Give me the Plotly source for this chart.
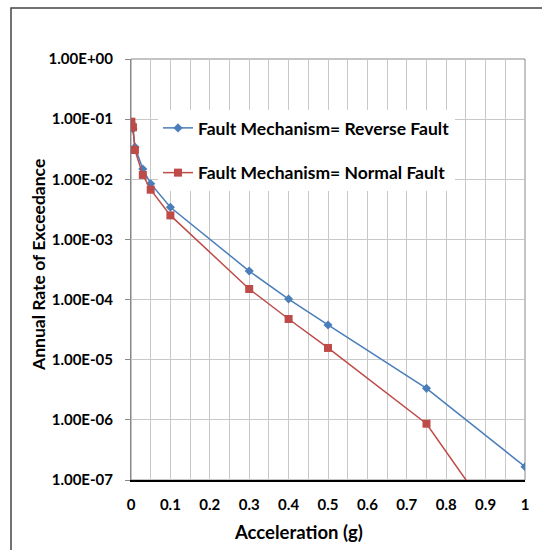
import plotly.graph_objects as go

# Seismic hazard curves: peak ground acceleration vs. annual rate of exceedance
reverse_pga = [0.001, 0.005, 0.01, 0.03, 0.05, 0.1, 0.3, 0.4, 0.5, 0.75, 1.0]
reverse_rate = [8.6e-2, 6.9e-2, 3.44e-2, 1.48e-2, 8.45e-3, 3.42e-3, 2.98e-4,
                1.02e-4, 3.78e-5, 3.34e-6, 1.66e-7]

normal_pga = [0.001, 0.005, 0.01, 0.03, 0.05, 0.1, 0.3, 0.4, 0.5, 0.75, 1.0]
normal_rate = [9.07e-2, 7.31e-2, 3.07e-2, 1.18e-2, 6.71e-3, 2.51e-3, 1.5e-4,
               4.75e-5, 1.57e-5, 8.63e-7, 4.0e-9]

y_tick_vals = [1e0, 1e-1, 1e-2, 1e-3, 1e-4, 1e-5, 1e-6, 1e-7]
y_tick_text = ["1.00E+00", "1.00E-01", "1.00E-02", "1.00E-03",
               "1.00E-04", "1.00E-05", "1.00E-06", "1.00E-07"]

FONT = "Lato"
W, H = 542, 550
L, R, T, B = 131, 17, 59, 70
PW, PH = W - L - R, H - T - B


def px_x(p):
    return (p - L) / PW


def px_y(p):
    return (H - B - p) / PH


fig = go.Figure()
fig.add_trace(go.Scatter(
    x=reverse_pga, y=reverse_rate, mode="lines+markers",
    name="Fault Mechanism= Reverse Fault", legendgroup="rev",
    line=dict(color="#4a7ebb", width=1.5),
    marker=dict(symbol="diamond", size=7, color="#4a7ebb"),
))
fig.add_trace(go.Scatter(
    x=normal_pga, y=normal_rate, mode="lines+markers",
    name="Fault Mechanism= Normal Fault", legendgroup="nor",
    line=dict(color="#be4b48", width=1.5),
    marker=dict(symbol="square", size=8, color="#be4b48"),
))

fig.update_layout(
    width=W, height=H,
    margin=dict(l=L, r=R, t=T, b=B),
    paper_bgcolor="white", plot_bgcolor="white",
    font=dict(family=FONT, color="black"),
    showlegend=True,
    legend=dict(
        x=px_x(158), y=px_y(110), xanchor="left", yanchor="top",
        bgcolor="white", borderwidth=0,
        font=dict(family=FONT, size=17.5, weight=700, color="black"),
        traceorder="grouped", tracegroupgap=19,
        itemwidth=30,
    ),
    xaxis=dict(
        range=[0, 1], dtick=0.1, tick0=0,
        showgrid=True, gridcolor="#c8c8c8", gridwidth=1,
        minor=dict(dtick=0.05, showgrid=True, gridcolor="#c8c8c8", gridwidth=1),
        showline=True, linecolor="black", linewidth=1.5,
        ticks="", zeroline=False, ticklabelstandoff=10,
        tickfont=dict(family=FONT, size=15, weight=700),
    ),
    yaxis=dict(
        type="log", range=[-7, 0],
        tickvals=y_tick_vals, ticktext=y_tick_text,
        showgrid=True, gridcolor="#c8c8c8", gridwidth=1,
        showline=True, linecolor="#888888", linewidth=1,
        ticks="outside", ticklen=5, tickcolor="#888888",
        zeroline=False, ticklabelstandoff=9,
        tickfont=dict(family=FONT, size=15, weight=700),
    ),
    shapes=[
        # plot frame
        dict(type="rect", xref="paper", yref="paper", x0=0, x1=1, y0=0, y1=1,
             line=dict(color="#888888", width=1), layer="below"),
        # chart border
        dict(type="rect", xref="paper", yref="paper",
             x0=px_x(11), x1=px_x(560), y0=px_y(570), y1=px_y(8),
             line=dict(color="#444444", width=1.5)),
    ],
    annotations=[
        dict(text="Acceleration (g)", xref="paper", yref="paper",
             x=px_x(298), y=px_y(532), xanchor="center", yanchor="middle",
             showarrow=False,
             font=dict(family=FONT, size=18.5, weight=700)),
        dict(text="Annual Rate of Exceedance", xref="paper", yref="paper",
             x=px_x(38), y=px_y(265), xanchor="center", yanchor="middle",
             showarrow=False, textangle=-90,
             font=dict(family=FONT, size=17.5, weight=700)),
    ],
)

fig.write_html("out.html")
